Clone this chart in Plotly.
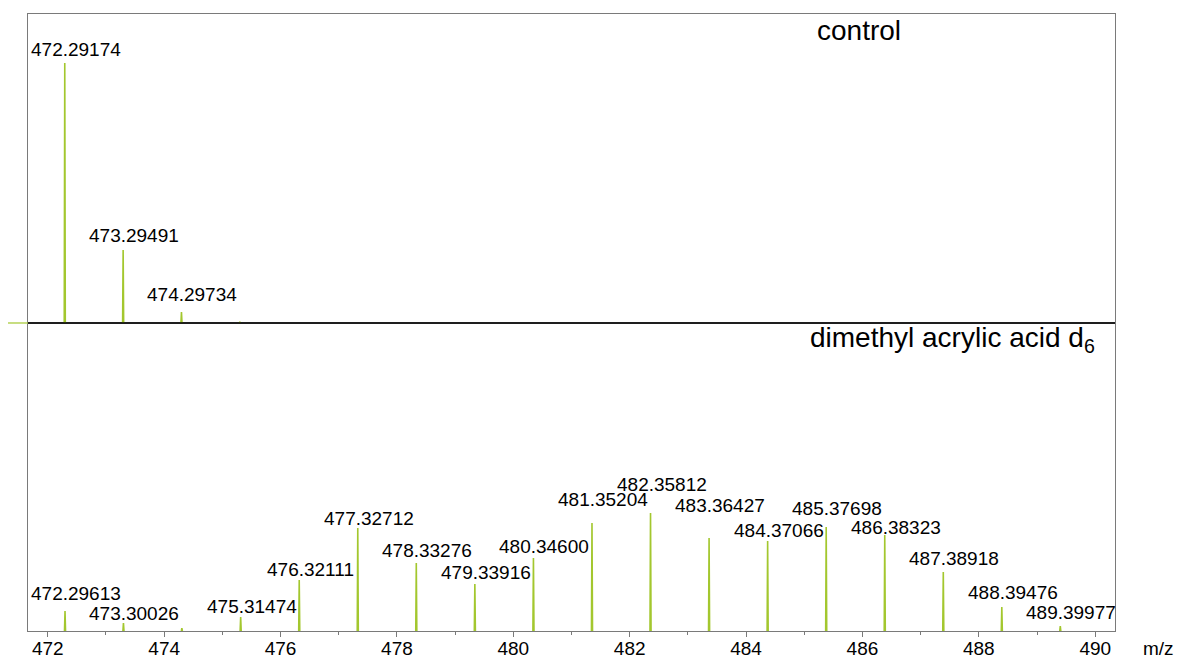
import plotly.graph_objects as go

# ---------------- data ----------------
control_mz = [472.29174, 473.29491, 474.29734, 475.2999]
control_int = [100.0, 28.1, 4.2, 0.4]
control_labels = ["472.29174", "473.29491", "474.29734", ""]

d6_mz = [472.29613, 473.30026, 474.3043, 475.31474, 476.32111, 477.32712,
         478.33276, 479.33916, 480.34600, 481.35204, 482.35812, 483.36427,
         484.37066, 485.37698, 486.38323, 487.38918, 488.39476, 489.39977]
d6_int = [16.9, 6.8, 2.5, 11.9, 43.2, 87.3, 57.6, 39.8, 61.9, 91.5, 100.0,
          78.8, 76.3, 88.1, 81.4, 50.0, 20.3, 4.2]
d6_labels = ["472.29613", "473.30026", "", "475.31474", "476.32111", "477.32712",
             "478.33276", "479.33916", "480.34600", "481.35204", "482.35812",
             "483.36427", "484.37066", "485.37698", "486.38323", "487.38918",
             "488.39476", "489.39977"]

tick_vals = [472, 474, 476, 478, 480, 482, 484, 486, 488, 490]

# label gap (px between digits baseline and peak top) - layout only
control_gap = [6, 7, 10, 0]
d6_gap = [10, 2, 0, 3, 3, 2, 5, 4, 4, 16, 21, 25, 3, 11, 0, 6, 7, 6]

# ---------------- style ----------------
GREEN = "#a3c72e"
FONT = "Liberation Sans, Arial, sans-serif"
FRAME = "#7a7a7a"
HALF = 0.009  # peak half width in m/z units


def peak_path(mzs, ints):
    xs, ys = [], []
    for m, v in zip(mzs, ints):
        xs += [m - HALF, m, m + HALF, None]
        ys += [0, v, 0, None]
    return xs, ys


fig = go.Figure()

cx, cy = peak_path(control_mz, control_int)
fig.add_trace(go.Scatter(x=cx, y=cy, mode="lines", line=dict(color=GREEN, width=1.6),
                         xaxis="x2", yaxis="y2", hoverinfo="skip", showlegend=False))
dx, dy = peak_path(d6_mz, d6_int)
fig.add_trace(go.Scatter(x=dx, y=dy, mode="lines", line=dict(color=GREEN, width=1.6),
                         xaxis="x", yaxis="y", hoverinfo="skip", showlegend=False))

XR = [471.66, 490.34]
SPLIT = 0.4992

annotations = []
DESC = 5
for m, v, t, g in zip(control_mz, control_int, control_labels, control_gap):
    if t:
        annotations.append(dict(x=m, y=v, xref="x2", yref="y2", text=t, showarrow=False,
                                xanchor="center", yanchor="bottom", xshift=11, yshift=g - DESC,
                                font=dict(family=FONT, size=19, color="black")))
for m, v, t, g in zip(d6_mz, d6_int, d6_labels, d6_gap):
    if t:
        annotations.append(dict(x=m, y=v, xref="x", yref="y", text=t, showarrow=False,
                                xanchor="center", yanchor="bottom", xshift=11, yshift=g - DESC,
                                font=dict(family=FONT, size=19, color="black")))

annotations.append(dict(x=0.724, y=0.9733, xref="paper", yref="paper", text="control",
                        showarrow=False, xanchor="left", yanchor="middle",
                        font=dict(family=FONT, size=28, color="black")))
annotations.append(dict(x=0.7176, y=0.4725, xref="paper", yref="paper",
                        text="dimethyl acrylic acid d<sub>6</sub>",
                        showarrow=False, xanchor="left", yanchor="middle",
                        font=dict(family=FONT, size=28, color="black")))
annotations.append(dict(x=1.0239, y=-0.029, xref="paper", yref="paper", text="m/z",
                        showarrow=False, xanchor="left", yanchor="middle",
                        font=dict(family=FONT, size=19, color="black")))

shapes = [
    dict(type="line", xref="paper", yref="paper", x0=0, x1=1, y0=SPLIT, y1=SPLIT,
         line=dict(color="black", width=1.6), layer="above"),
    dict(type="line", xref="paper", yref="paper", x0=-0.0184, x1=0, y0=SPLIT, y1=SPLIT,
         line=dict(color=GREEN, width=1.2), layer="above"),
]

fig.update_layout(
    width=1177, height=657,
    margin=dict(l=28, r=62, t=14, b=26, autoexpand=False),
    paper_bgcolor="white", plot_bgcolor="white",
    font=dict(family=FONT, size=19, color="black"),
    showlegend=False,
    annotations=annotations,
    shapes=shapes,
    xaxis=dict(domain=[0, 1], range=XR, anchor="y", showgrid=False, zeroline=False,
               showline=True, linecolor=FRAME, linewidth=1, mirror=True,
               tickmode="array", tickvals=tick_vals, ticks="outside", ticklen=5,
               tickcolor=FRAME, tickwidth=1, tickfont=dict(family=FONT, size=19, color="black"),
               ticklabelstandoff=-5,
               minor=dict(dtick=1, tick0=471, ticks="outside", ticklen=3, tickcolor=FRAME),
               automargin=False),
    yaxis=dict(domain=[0, SPLIT], range=[0, 261], showgrid=False, zeroline=False,
               showline=True, linecolor=FRAME, linewidth=1, mirror=True,
               showticklabels=False, ticks="", automargin=False),
    xaxis2=dict(domain=[0, 1], range=XR, anchor="y2", showgrid=False, zeroline=False,
                showline=True, linecolor=FRAME, linewidth=1, mirror=True,
                showticklabels=False, ticks="", automargin=False),
    yaxis2=dict(domain=[SPLIT, 1], range=[0, 118.85], showgrid=False, zeroline=False,
                showline=True, linecolor=FRAME, linewidth=1, mirror=True,
                showticklabels=False, ticks="", automargin=False),
)

fig.write_html("out.html")
